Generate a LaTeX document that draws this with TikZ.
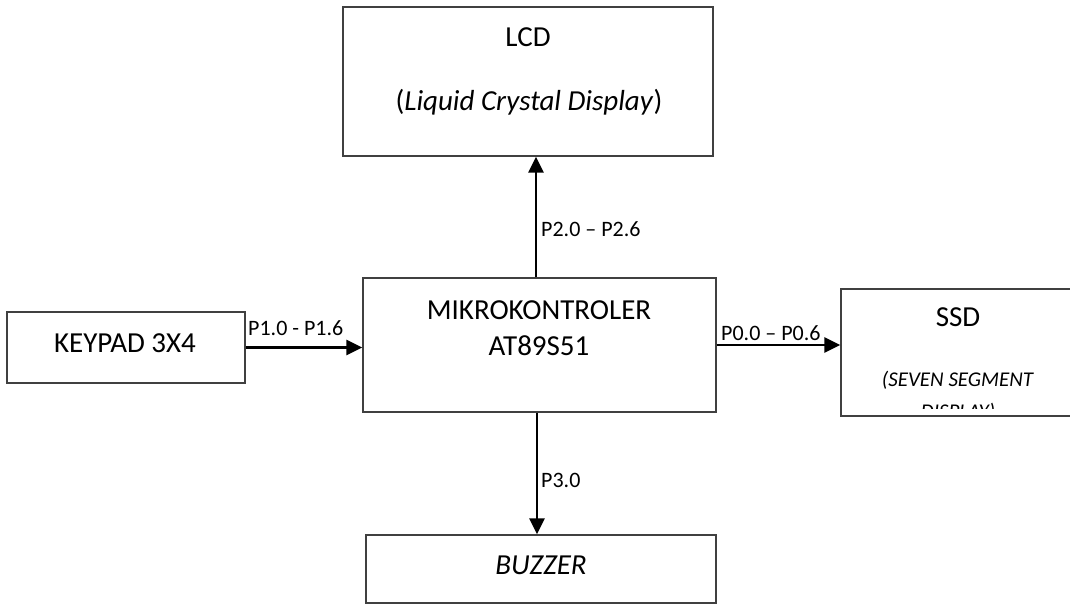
\documentclass[tikz,border=0pt]{standalone}
\usepackage{fontspec}
\setmainfont{Carlito}
\usetikzlibrary{arrows.meta}
\begin{document}
\begin{tikzpicture}[x=1pt,y=-1pt,
  box/.style={draw=black!75,line width=1.3pt,inner sep=0pt},
  txt/.style={font=\fontsize{29}{34}\selectfont,inner sep=0pt},
  small/.style={font=\fontsize{21}{25}\selectfont,inner sep=0pt},
  lbl/.style={font=\fontsize{22}{26}\selectfont,inner sep=0pt,anchor=west},
  conn/.style={line width=2.6pt,-{Triangle[length=16pt,width=15pt]}}]
\useasboundingbox (0,0) rectangle (1070,604);
\clip (0,0) rectangle (1070,604);
% boxes
\node[box,minimum width=370pt,minimum height=149pt] (lcd) at (528,81.5) {};
\node[box,minimum width=353pt,minimum height=134pt] (mc) at (539.5,345) {};
\node[box,minimum width=238pt,minimum height=71pt] (kp) at (126,347.5) {};
\node[box,minimum width=234pt,minimum height=127pt] (ssd) at (958,352.5) {};
\node[box,minimum width=350pt,minimum height=68pt] (bz) at (541,569) {};
% texts
\node[txt] (lcdt1) at (528,37) {LCD};
\node[txt] (lcdt2) at (529,102) {(\textit{Liquid Crystal Display})};
\node[txt] (mct1) at (539,310) {MIKROKONTROLER};
\node[txt] (mct2) at (539,346) {AT89S51};
\node[txt] (kpt) at (125,343) {KEYPAD 3X4};
\node[txt] (ssdt1) at (958,317) {SSD};
\node[small] (ssdt2) at (958,380) {\textit{(SEVEN SEGMENT}};
\begin{scope}
  \clip (842,290) rectangle (1070,408);
  \node[small] (ssdt3) at (958,412) {\textit{DISPLAY)}};
\end{scope}
\node[txt] (bzt) at (541,565) {\textit{BUZZER}};
% connectors
\draw[conn] ([xshift=-3.5pt]mc.north) -- ([xshift=-3.5pt]mc.north |- lcd.south);
\draw[conn] (kp.east) -- (kp.east -| mc.west);
\draw[conn] (mc.east) -- (mc.east -| ssd.west);
\draw[conn] ([xshift=-2.5pt]mc.south) -- ([xshift=-2.5pt]mc.south |- bz.north);
% labels
\node[lbl] (l2) at (541,229) {P2.0 – P2.6};
\node[lbl] (l1) at (248,328) {P1.0 - P1.6};
\node[lbl] (l0) at (721,333) {P0.0 – P0.6};
\node[lbl] (l3) at (541,480) {P3.0};
\end{tikzpicture}
\end{document}
